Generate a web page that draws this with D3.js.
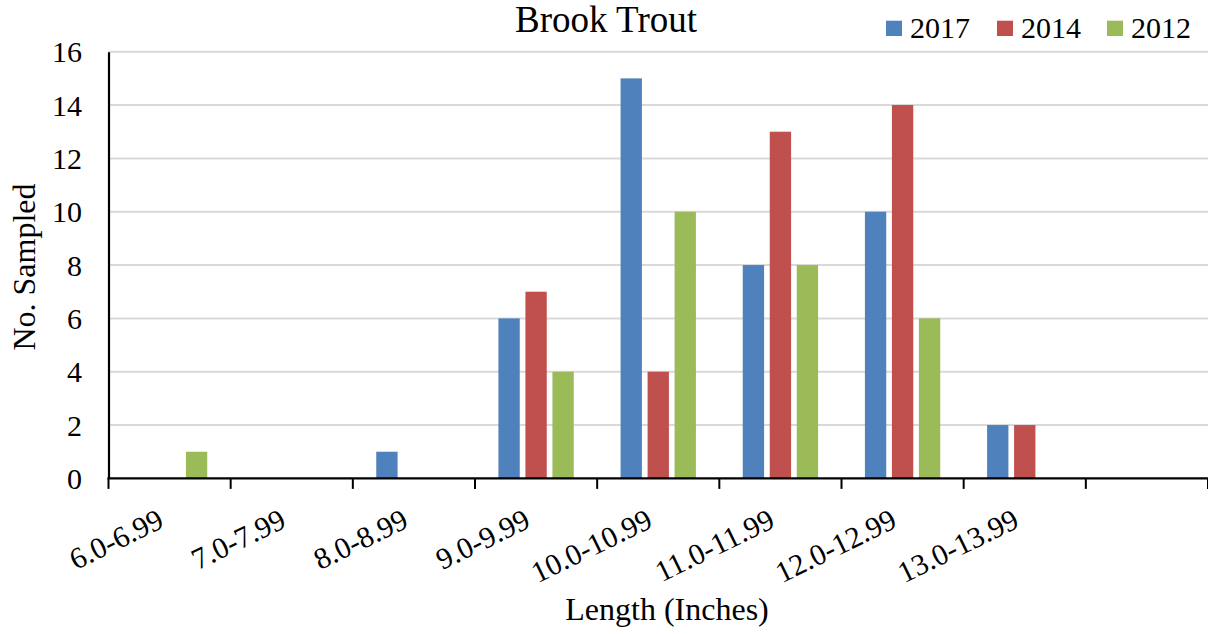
<!DOCTYPE html>
<html>
<head>
<meta charset="utf-8">
<script src="https://cdn.jsdelivr.net/npm/d3@7"></script>
<style>
  html, body { margin: 0; padding: 0; background: #fff; }
  svg { display: block; }
  text { font-family: "Liberation Serif", "Times New Roman", serif; fill: #000; }
</style>
</head>
<body>
<svg id="chart" width="1208" height="634"></svg>
<script>
// Length classes (last slot is an empty bin on the axis)
const categories = ["6.0-6.99", "7.0-7.99", "8.0-8.99", "9.0-9.99", "10.0-10.99",
                    "11.0-11.99", "12.0-12.99", "13.0-13.99", ""];
const seriesNames = ["2017", "2014", "2012"];
const values2017 = [0, 0, 1, 6, 15, 8, 10, 2, 0];
const values2014 = [0, 0, 0, 7, 4, 13, 14, 2, 0];
const values2012 = [1, 0, 0, 4, 10, 8, 6, 0, 0];
const seriesColors = ["#4F81BD", "#C0504D", "#9BBB59"];
const yTicks = [0, 2, 4, 6, 8, 10, 12, 14, 16];

const seriesValues = [values2017, values2014, values2012];

const svg = d3.select("#chart");
const margin = { left: 108.5, right: 0, top: 51.7 };
const W = 1208;
const plotBottom = 478.4;

const x = d3.scaleBand()
  .domain(d3.range(categories.length))
  .range([margin.left, W - margin.right])
  .paddingInner(0).paddingOuter(0);

const y = d3.scaleLinear()
  .domain([0, 16])
  .range([plotBottom, margin.top]);

// series offsets inside a category
const groupHalf = 40.5;
const xs = d3.scaleBand()
  .domain(seriesNames)
  .range([-groupHalf, groupHalf])
  .paddingInner(0.21)
  .paddingOuter(0.105);

// horizontal gridlines
svg.append("g")
  .selectAll("line")
  .data(yTicks.filter(t => t > 0))
  .join("line")
  .attr("x1", margin.left)
  .attr("x2", W)
  .attr("y1", d => y(d))
  .attr("y2", d => y(d))
  .attr("stroke", "#d9d9d9")
  .attr("stroke-width", 2);

// bars
const barG = svg.append("g");
seriesNames.forEach((name, si) => {
  barG.append("g")
    .selectAll("rect")
    .data(seriesValues[si].map((v, i) => ({ v, i })).filter(d => d.v > 0))
    .join("rect")
    .attr("x", d => x(d.i) + x.bandwidth() / 2 + xs(name))
    .attr("width", xs.bandwidth())
    .attr("y", d => y(d.v))
    .attr("height", d => y(0) - y(d.v))
    .attr("fill", seriesColors[si]);
});

// y axis
const yAxis = d3.axisLeft(y).tickValues(yTicks).tickSize(0).tickPadding(0).tickFormat(d3.format("d"));
const yG = svg.append("g").attr("transform", `translate(${margin.left},0)`).call(yAxis);
yG.attr("font-family", null).attr("font-size", null);
yG.select(".domain").attr("stroke", "#000").attr("stroke-width", 2.2);
yG.selectAll(".tick text")
  .attr("x", -26.5)
  .attr("dy", "0.34em")
  .style("font-size", "30px")
  .attr("fill", "#000");

// x axis: ticks on category boundaries
const xG = svg.append("g").attr("transform", `translate(0,${plotBottom})`);
const boundaries = d3.range(categories.length + 1).map(i => margin.left + i * x.step());
xG.selectAll("line.tick")
  .data(boundaries)
  .join("line")
  .attr("class", "tick")
  .attr("x1", d => d).attr("x2", d => d)
  .attr("y1", 0).attr("y2", 10.5)
  .attr("stroke", "#000").attr("stroke-width", 2);
xG.append("line")
  .attr("x1", margin.left - 1).attr("x2", W)
  .attr("y1", 0).attr("y2", 0)
  .attr("stroke", "#000").attr("stroke-width", 2.4);

// rotated category labels, ending near the category centre
xG.selectAll("text.cat")
  .data(categories.map((c, i) => ({ c, i })).filter(d => d.c))
  .join("text")
  .attr("class", "cat")
  .attr("text-anchor", "end")
  .attr("transform", d => `translate(${x(d.i) + x.bandwidth() / 2 - 4},${48}) rotate(-26)`)
  .style("font-size", "30px")
  .text(d => d.c);

// title
svg.append("text")
  .attr("x", 606).attr("y", 31.7)
  .attr("text-anchor", "middle")
  .style("font-size", "37px")
  .text("Brook Trout");

// axis titles
svg.append("text")
  .attr("transform", "translate(35,267) rotate(-90)")
  .attr("text-anchor", "middle")
  .style("font-size", "32px")
  .text("No. Sampled");

svg.append("text")
  .attr("x", 667).attr("y", 620)
  .attr("text-anchor", "middle")
  .style("font-size", "32px")
  .text("Length (Inches)");

// legend
const legendX = [886, 997, 1107];
const legend = svg.append("g");
seriesNames.forEach((name, i) => {
  legend.append("rect")
    .attr("x", legendX[i]).attr("y", 20.7)
    .attr("width", 16).attr("height", 15.3)
    .attr("fill", seriesColors[i]);
  legend.append("text")
    .attr("x", legendX[i] + 24).attr("y", 38)
    .style("font-size", "30px")
    .text(name);
});
</script>
</body>
</html>
